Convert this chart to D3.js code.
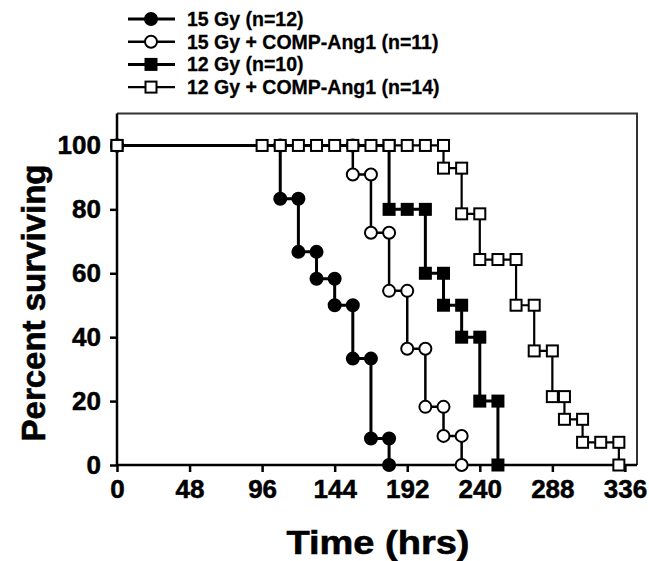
<!DOCTYPE html>
<html>
<head>
<meta charset="utf-8">
<script src="https://cdn.jsdelivr.net/npm/d3@7"></script>
<style>
  body { margin: 0; background: #fff; }
  text { font-family: "Liberation Sans", Arial, sans-serif; font-weight: bold; fill: #000; }
</style>
</head>
<body>
<svg id="chart" width="649" height="561"></svg>
<script>
// survival curves, each pair of points = one marker; same time twice = a drop
var gy15Time   = [0, 108, 108, 120, 120, 132, 132, 144, 144, 156, 156, 168, 168, 180, 180];
var gy15Pct    = [100, 100, 83.3, 83.3, 66.7, 66.7, 58.3, 58.3, 50, 50, 33.3, 33.3, 8.3, 8.3, 0];

var gy15AngTime = [0, 156, 156, 168, 168, 180, 180, 192, 192, 204, 204, 216, 216, 228, 228];
var gy15AngPct  = [100, 100, 90.9, 90.9, 72.7, 72.7, 54.5, 54.5, 36.4, 36.4, 18.2, 18.2, 9.1, 9.1, 0];

var gy12Time   = [0, 180, 180, 192, 204, 204, 216, 216, 228, 228, 240, 240, 252, 252];
var gy12Pct    = [100, 100, 80, 80, 80, 60, 60, 50, 50, 40, 40, 20, 20, 0];

var gy12AngTime = [0, 96, 108, 120, 132, 144, 156, 168, 180, 192, 204, 216, 216, 228, 228, 240, 240, 252, 264, 264, 276, 276, 288, 288, 296, 296, 308, 308, 320, 332, 332];
var gy12AngPct  = [100, 100, 100, 100, 100, 100, 100, 100, 100, 100, 100, 100, 92.9, 92.9, 78.6, 78.6, 64.3, 64.3, 64.3, 50, 50, 35.7, 35.7, 21.4, 21.4, 14.3, 14.3, 7.1, 7.1, 7.1, 0];

var seriesNames = ['15 Gy (n=12)', '15 Gy + COMP-Ang1 (n=11)', '12 Gy (n=10)', '12 Gy + COMP-Ang1 (n=14)'];
var xTicks = [0, 48, 96, 144, 192, 240, 288, 336];
var yTicks = [0, 20, 40, 60, 80, 100];

var series = [
    {name: seriesNames[0], t: gy15Time, p: gy15Pct, shape: 'circle', fill: '#000', lw: 3},
    {name: seriesNames[1], t: gy15AngTime, p: gy15AngPct, shape: 'circle', fill: '#fff', lw: 2.5},
    {name: seriesNames[2], t: gy12Time, p: gy12Pct, shape: 'square', fill: '#000', lw: 3},
    {name: seriesNames[3], t: gy12AngTime, p: gy12AngPct, shape: 'square', fill: '#fff', lw: 2.2}
];

var svg = d3.select('#chart');

var x = d3.scaleLinear().domain([0, 344]).range([117, 637]);
var y = d3.scaleLinear().domain([0, 110]).range([465, 113.5]);

// frame (top + right)
svg.append('path')
    .attr('d', 'M' + x(0) + ',' + y(110) + 'H' + x(344) + 'V' + y(0))
    .attr('fill', 'none')
    .attr('stroke', '#333')
    .attr('stroke-width', 2);

// axes
var xAxis = svg.append('g')
    .attr('transform', 'translate(0,' + y(0) + ')')
    .call(d3.axisBottom(x).tickValues(xTicks).tickSize(7).tickSizeOuter(0).tickPadding(8));
var yAxis = svg.append('g')
    .attr('transform', 'translate(' + x(0) + ',0)')
    .call(d3.axisLeft(y).tickValues(yTicks).tickSize(7).tickSizeOuter(0).tickPadding(9));

[xAxis, yAxis].forEach(function (g) {
    g.select('.domain').attr('stroke', '#000').attr('stroke-width', 2.5);
    g.selectAll('.tick line').attr('stroke', '#000').attr('stroke-width', 2.5);
    g.selectAll('.tick text')
        .style('font-size', '26px')
        .style('font-family', '"Liberation Sans", Arial, sans-serif')
        .style('font-weight', 'bold')
        .style('stroke', '#000')
        .style('stroke-width', 0.5);
});
// the domain path should stop at the frame
xAxis.select('.domain').attr('d', 'M' + x(0) + ',0H' + x(344));
yAxis.select('.domain').attr('d', 'M0,' + y(0) + 'V' + y(110));

// axis titles
svg.append('text')
    .attr('x', 378)
    .attr('y', 554)
    .attr('text-anchor', 'middle')
    .attr('textLength', 183)
    .attr('lengthAdjust', 'spacingAndGlyphs')
    .style('font-size', '34px')
    .style('stroke', '#000')
    .style('stroke-width', 0.6)
    .text('Time (hrs)');

svg.append('text')
    .attr('transform', 'translate(45,303) rotate(-90)')
    .attr('text-anchor', 'middle')
    .style('font-size', '33px')
    .style('stroke', '#000')
    .style('stroke-width', 0.6)
    .text('Percent surviving');

function drawMarker(g, shape, cx, cy, fill) {
    if (shape === 'circle') {
        g.append('circle')
            .attr('cx', cx).attr('cy', cy).attr('r', 6)
            .attr('fill', fill).attr('stroke', '#000').attr('stroke-width', 2);
    } else {
        g.append('rect')
            .attr('x', cx - 5.5).attr('y', cy - 5.5)
            .attr('width', 11).attr('height', 11)
            .attr('fill', fill).attr('stroke', '#000').attr('stroke-width', 2);
    }
}

var line = d3.line().x(d => x(d[0])).y(d => y(d[1]));

series.forEach(function (s) {
    var pts = s.t.map((t, i) => [t, s.p[i]]);
    var g = svg.append('g');
    g.append('path')
        .attr('d', line(pts))
        .attr('fill', 'none')
        .attr('stroke', '#000')
        .attr('stroke-width', s.lw);
    pts.forEach(function (d) {
        drawMarker(g, s.shape, x(d[0]), y(d[1]), s.fill);
    });
});

// legend
var legend = svg.append('g');
series.forEach(function (s, i) {
    var ly = 19 + i * 22.7;
    legend.append('line')
        .attr('x1', 128).attr('x2', 175)
        .attr('y1', ly).attr('y2', ly)
        .attr('stroke', '#000').attr('stroke-width', s.lw);
    drawMarker(legend, s.shape, 151, ly, s.fill);
    legend.append('text')
        .attr('x', 187)
        .attr('y', ly)
        .attr('dy', '0.36em')
        .style('font-size', '19.5px')
        .style('stroke', '#000')
        .style('stroke-width', 0.3)
        .text(s.name);
});
</script>
</body>
</html>
